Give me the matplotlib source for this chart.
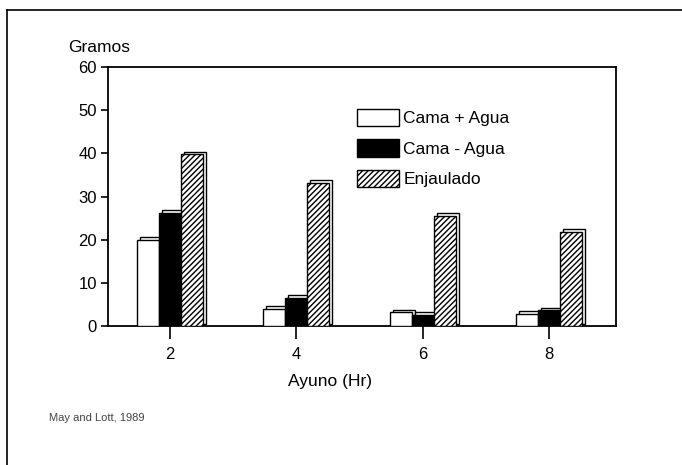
import matplotlib
matplotlib.use("Agg")
import matplotlib.pyplot as plt
import matplotlib.transforms as mtransforms
from matplotlib.patches import Patch
from matplotlib.lines import Line2D
import numpy as np

hours = [2, 4, 6, 8]
cama_mas_agua = [20, 4, 3.2, 2.8]
cama_menos_agua = [26.2, 6.6, 2.6, 3.6]
enjaulado = [39.8, 33.2, 25.5, 21.8]
series_labels = ["Cama + Agua", "Cama - Agua", "Enjaulado"]
yticks = [0, 10, 20, 30, 40, 50, 60]

plt.rcParams['font.family'] = ['Liberation Sans', 'DejaVu Sans']
plt.rcParams['hatch.linewidth'] = 1.0

fig = plt.figure(figsize=(6.82, 4.65), dpi=100)
ax = fig.add_axes([108/682, 1-326/465, (616-108)/682, (326-67)/465])

w = 0.348
offsets = [-w, 0, w]
styles = [dict(facecolor='white', hatch=None),
          dict(facecolor='black', hatch=None),
          dict(facecolor='white', hatch='//////')]
back = mtransforms.offset_copy(ax.transData, fig=fig, x=3, y=2.5, units='dots')
x = np.array(hours, dtype=float)
for vals, off, st in zip([cama_mas_agua, cama_menos_agua, enjaulado], offsets, styles):
    ax.bar(x + off, vals, width=w, color='white', edgecolor='black', linewidth=1.0,
           transform=back, zorder=2)
    ax.bar(x + off, vals, width=w, facecolor=st['facecolor'], hatch=st['hatch'],
           edgecolor='black', linewidth=1.0, zorder=3)

ax.set_xlim(1.02, 9.06)
ax.set_ylim(0, 60)
ax.set_xticks(hours)
ax.set_xticklabels([str(h) for h in hours])
ax.set_yticks(yticks)
for s in ax.spines.values():
    s.set_linewidth(1.3)
ax.tick_params(axis='both', direction='out', labelsize=12, width=1.2)
ax.tick_params(axis='x', length=9, pad=6)
ax.tick_params(axis='y', length=5, pad=3)

handles = [Patch(facecolor='white', edgecolor='black', linewidth=1.0),
           Patch(facecolor='black', edgecolor='black', linewidth=1.0),
           Patch(facecolor='white', edgecolor='black', hatch='//////', linewidth=1.0)]
ax.legend(handles, series_labels, loc='upper left', bbox_to_anchor=(0.477, 0.865),
          frameon=False, fontsize=12.5, handlelength=2.4, handleheight=1.15,
          labelspacing=0.75, handletextpad=0.25, borderaxespad=0)

fig.text(68/682, 1-48/465, "Gramos", fontsize=12.5, va='center', ha='left')
fig.text(330/682, 1-381/465, "Ayuno (Hr)", fontsize=12.5, va='center', ha='center')
fig.text(49/682, 1-418/465, "May and Lott, 1989", fontsize=8, va='center', ha='left',
         color='#444444')

fig.add_artist(Line2D([7/682, 1], [1-10/465, 1-10/465], color='black', linewidth=1.2,
                      transform=fig.transFigure))
fig.add_artist(Line2D([7/682, 7/682], [1-10/465, 0], color='black', linewidth=1.2,
                      transform=fig.transFigure))

fig.savefig("out.png", dpi=100)
